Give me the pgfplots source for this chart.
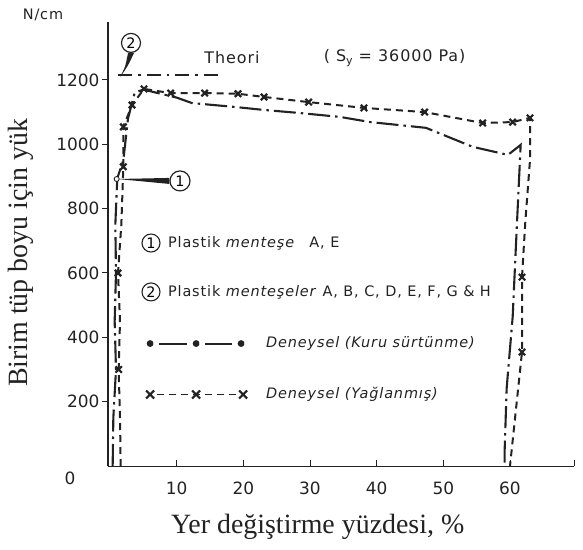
\documentclass[border=0pt]{standalone}
\usepackage{pgfplots}
\pgfplotsset{compat=1.18}
\usepackage{fontspec}
\setmainfont{Liberation Serif}
\newfontfamily\sansf{DejaVu Sans}
\newfontfamily\legf[LetterSpace=6]{DejaVu Sans}
\newcommand\tickfont{\sansf\fontsize{17}{17}\selectfont}
\newcommand\legfont{\legf\fontsize{14.5}{15}\selectfont}
\newcommand\thfont{\legf\fontsize{16}{16}\selectfont}
\newcommand\labfont{\fontsize{28}{30}\selectfont}
\definecolor{ink}{HTML}{222222}

\begin{document}
\begin{tikzpicture}
\useasboundingbox (0,0) rectangle (583bp,550bp);
\begin{axis}[
  at={(108bp,84bp)}, anchor=south west,
  scale only axis, width=466bp, height=444bp,
  xmin=-0.3, xmax=69.6, ymin=0, ymax=1380,
  axis x line*=bottom, axis y line*=left,
  x axis line style={line width=0.9bp, ink},
  y axis line style={line width=1.8bp, ink},
  xtick={10,20,30,40,50,60,69.6},
  xticklabels={10,20,30,40,50,60,{}},
  ytick={200,400,600,800,1000,1200},
  yticklabels={200,400,600,800,1000,1200},
  tick align=inside, ytick align=outside, major tick length=6bp,
  tick style={ink, line width=1bp},
  ticklabel style={font=\tickfont, text=ink},
  xticklabel style={yshift=-12bp},
  yticklabel style={xshift=1bp},
  clip=false,
  xlabel={Yer değiştirme yüzdesi, \%},
  ylabel={Birim tüp boyu için yük},
  label style={font=\labfont, text=ink},
  xlabel style={at={(axis description cs:0.45,-0.137)}, anchor=center},
  ylabel style={at={(axis description cs:-0.187,0.48)}, anchor=center},
  legend style={at={(axis description cs:0.079,0.292)}, anchor=north west,
    draw=none, fill=none, inner sep=0pt, row sep=37bp, column sep=18bp,
    font=\legfont, text=ink, nodes={inner sep=0pt, text height=11bp, text depth=3bp}},
  legend cell align=left,
]
% theory line
\addplot[ink, line width=1.7bp, dash pattern=on 14bp off 6bp on 2.5bp off 6bp, forget plot]
  coordinates {(1.2,1215) (17,1215)};

% Deneysel (Kuru surtunme)
\addplot[ink, line width=2.1bp, dash pattern=on 22bp off 5bp on 2.5bp off 5bp,
  legend image code/.code={
    \draw[ink,solid,line width=2bp] (9bp,0bp)--(37bp,0bp) (55bp,0bp)--(82bp,0bp);
    \fill[ink] (0bp,0bp) circle (2.3bp) (46bp,0bp) circle (2.3bp) (91bp,0bp) circle (2.3bp);}]
  coordinates {
  (0.4,0) (0.5,150) (0.9,300) (0.7,450) (0.9,600) (0.8,750) (1.0,850) (1.1,895)
  (2.0,950) (2.7,1080) (3.7,1160) (5,1170) (10,1145) (12.3,1128) (18.7,1116)
  (22.9,1107) (28.5,1097) (34.5,1085) (39,1069) (47.4,1051) (54.4,992)
  (59.7,967) (61.6,998) (61,734) (60.4,463) (59.5,242) (59.2,50) (59.2,0)
  };
\addlegendentry{\textit{Deneysel (Kuru sürtünme)}}

% Deneysel (Yaglanmis)
\addplot[ink, line width=2bp, dash pattern=on 7bp off 5bp,
  mark=x, mark size=4.5bp, mark options={solid, line width=2.2bp},
  mark indices={3,5,7,8,9,10,11,12,13,14,15,16,17,18,19,20,23,24},
  legend image code/.code={
    \draw[ink,line width=1.8bp,dash pattern=on 7bp off 5bp] (7bp,0bp)--(87bp,0bp);
    \draw[ink,solid,line width=2.2bp] (-4bp,-4bp)--(4bp,4bp) (-4bp,4bp)--(4bp,-4bp)
      (42bp,-4bp)--(50bp,4bp) (42bp,4bp)--(50bp,-4bp)
      (89bp,-4bp)--(97bp,4bp) (89bp,4bp)--(97bp,-4bp);}]
  coordinates {
  (1.6,0) (1.5,150) (1.3,300) (1.5,450) (1.2,600) (1.7,750) (2,930) (2,1054)
  (3.3,1122) (5.1,1172) (9.1,1159) (14.2,1159) (19.2,1157) (23.1,1147)
  (29.8,1131) (38.1,1113) (47.2,1100) (55.9,1066) (60.4,1069) (63,1082)
  (63,951) (62.3,760) (61.8,587) (61.8,354) (60.3,59) (60,0)
  };
\addlegendentry{\textit{Deneysel (Yağlanmış)}}

% annotations
\node[draw=ink, circle, line width=1.2bp, minimum size=20bp, inner sep=0pt, font=\legfont] (a1) at (axis cs:10.5,886) {1};
\fill[ink] (axis cs:1.1,892) -- ([yshift=3bp]a1.west) -- ([yshift=-3bp]a1.west) -- cycle;
\draw[ink, line width=0.9bp, fill=white] (axis cs:1.0,892) circle (2.5bp);

\node[draw=ink, circle, line width=1.2bp, minimum size=19bp, inner sep=0pt, font=\legfont] (a2) at (axis cs:3.15,1315) {2};
\fill[ink] (axis cs:1.5,1209) .. controls (axis cs:2.3,1240) .. ([xshift=-3bp]a2.south)
  -- ([xshift=3bp]a2.south) .. controls (axis cs:2.6,1240) .. cycle;

\node[font=\thfont, text=ink] at (axis cs:18.3,1268) {Theori};
\node[font=\thfont, text=ink] at (axis cs:42.7,1268) {( S\raisebox{-3.5bp}{\fontsize{11}{11}\selectfont y} = 36000 Pa)};

\node[draw=ink, circle, line width=1.1bp, minimum size=18bp, inner sep=0pt, font=\legfont] (c1) at (axis cs:6.15,693) {1};
\node[anchor=west, font=\legfont, text=ink] at ([xshift=4bp]c1.east) {Plastik \textit{menteşe}\quad A, E};
\node[draw=ink, circle, line width=1.1bp, minimum size=18bp, inner sep=0pt, font=\legfont] (c2) at (axis cs:6.15,541) {2};
\node[anchor=west, font=\legfont, text=ink] at ([xshift=4bp]c2.east) {Plastik \textit{menteşeler} A, B, C, D, E, F, G \& H};

\node[font=\legfont, text=ink] at (axis cs:-10.05,1402) {N/cm};
\node[font=\tickfont, text=ink] at (axis cs:-6.0,-37) {0};
\end{axis}
\end{tikzpicture}
\end{document}
